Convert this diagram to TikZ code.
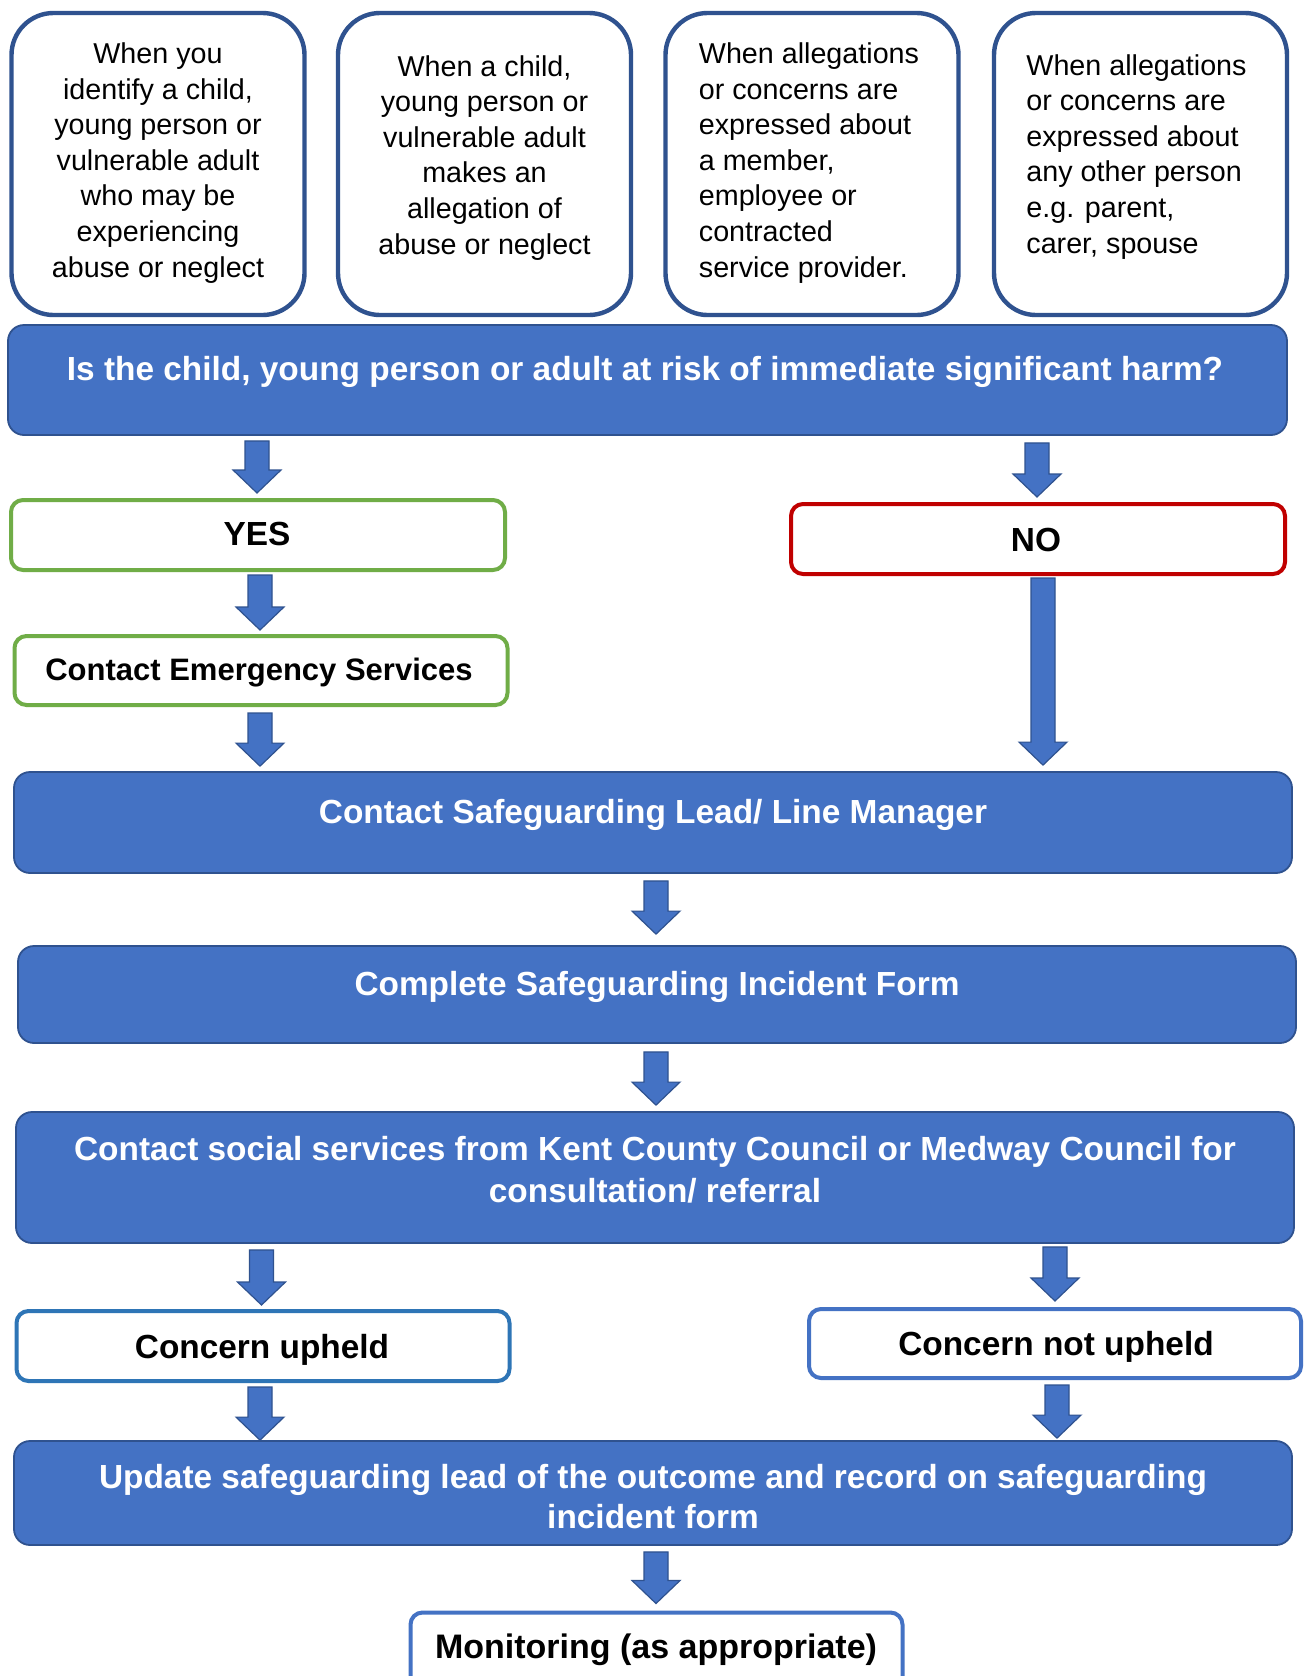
\documentclass[tikz,border=0pt]{standalone}
\usepackage{fontspec}
\setmainfont{Liberation Sans}
\usetikzlibrary{calc}
\definecolor{accblue}{HTML}{4472C4}
\definecolor{darkblue}{HTML}{2F528F}
\definecolor{accgreen}{HTML}{70AD47}
\definecolor{accred}{HTML}{C00000}
\definecolor{midblue}{HTML}{2E75B6}
\tikzset{
 topbox/.style={draw=darkblue, line width=2.2pt, rounded corners=21pt, fill=white, inner sep=0pt},
 bluebox/.style={draw=darkblue, line width=0.9pt, fill=accblue, rounded corners=8pt, inner sep=0pt},
 outbox/.style={line width=2pt, fill=white, rounded corners=6pt, inner sep=0pt},
 toptext/.style={font=\fontsize{14.35}{17.8}\selectfont, inner sep=0pt, anchor=base},
 bluetext/.style={font=\fontsize{16.7}{21}\selectfont\bfseries, text=white, inner sep=0pt, anchor=base, align=center},
 outtext/.style={font=\fontsize{16.7}{21}\selectfont\bfseries, inner sep=0pt, anchor=base},
 arrowbody/.style={fill=accblue, draw=darkblue, line width=0.6pt, line join=miter},
}
\newcommand\flowarrow[2]{%
 \draw[arrowbody] let \p1=#1, \p2=#2 in
 (\x2-6pt,\y1) -- (\x2+6pt,\y1) -- (\x2+6pt,\y2+11.5pt) -- (\x2+12pt,\y2+11.5pt)
 -- (\x2,\y2) -- (\x2-12pt,\y2+11.5pt) -- (\x2-6pt,\y2+11.5pt) -- cycle;}
\begin{document}
\begin{tikzpicture}[x=0.5pt,y=-0.5pt]
\useasboundingbox (0,0) rectangle (1303,1676);
\clip (0,0) rectangle (1303,1676);
\fill[white] (0,0) rectangle (1303,1676);
% top boxes
\node[topbox, minimum width=146.5pt, minimum height=151pt] (b1) at (158,164) {};
\node[topbox, minimum width=146.5pt, minimum height=151pt] (b2) at (484.5,164) {};
\node[topbox, minimum width=146.5pt, minimum height=151pt] (b3) at (812,164) {};
\node[topbox, minimum width=146.5pt, minimum height=151pt] (b4) at (1140.5,164) {};
\node[toptext, align=center] (t1) at (158,277) {When you\\identify a child,\\young person or\\vulnerable adult\\who may be\\experiencing\\abuse or neglect};
\node[toptext, align=center] (t2) at (484.5,254) {When a child,\\young person or\\vulnerable adult\\makes an\\allegation of\\abuse or neglect};
\node[toptext, align=left] (t3) at (809,277) {When allegations\\or concerns are\\expressed about\\a member,\\employee or\\contracted\\service provider.};
\node[toptext, align=left] (t4) at (1136.5,253) {When allegations\\or concerns are\\expressed about\\any other person\\e.g. parent,\\carer, spouse};
% question
\node[bluebox, minimum width=639.5pt, minimum height=55pt] (q) at (647.5,380) {};
\node[bluetext] (qt) at (645,380) {Is the child, young person or adult at risk of immediate significant harm?};
% yes / no
\node[outbox, draw=accgreen, minimum width=247pt, minimum height=35pt] (yes) at (258,535) {};
\node[outtext] (yest) at (257,545) {YES};
\node[outbox, draw=accred, minimum width=247pt, minimum height=35pt] (no) at (1038,539) {};
\node[outtext] (not) at (1036,551) {NO};
\node[outbox, draw=accgreen, minimum width=246.5pt, minimum height=34.5pt] (ces) at (261,670.5) {};
\node[outtext, font=\fontsize{15.5}{19}\selectfont\bfseries] (cest) at (259,680) {Contact Emergency Services};
% main column
\node[bluebox, minimum width=639pt, minimum height=50.5pt] (csl) at (653,822.5) {};
\node[bluetext] (cslt) at (653,823) {Contact Safeguarding Lead/ Line Manager};
\node[bluebox, minimum width=639pt, minimum height=48.5pt] (form) at (657,994.5) {};
\node[bluetext] (formt) at (657,995) {Complete Safeguarding Incident Form};
\node[bluebox, minimum width=639pt, minimum height=65.5pt] (social) at (655,1177.5) {};
\node[bluetext] (socialt) at (655,1202) {Contact social services from Kent County Council or Medway Council for\\consultation/ referral};
% outcomes
\node[outbox, draw=midblue, minimum width=246.5pt, minimum height=35pt] (up) at (263,1346) {};
\node[outtext] (upt) at (262,1358) {Concern upheld};
\node[outbox, draw=accblue, minimum width=246pt, minimum height=34.5pt] (nup) at (1055,1343.5) {};
\node[outtext] (nupt) at (1056,1355) {Concern not upheld};
\node[bluebox, minimum width=639pt, minimum height=52pt] (upd) at (653,1493) {};
\node[bluetext, font=\fontsize{16.7}{20}\selectfont\bfseries] (updt) at (653,1528) {Update safeguarding lead of the outcome and record on safeguarding\\incident form};
\node[outbox, draw=accblue, minimum width=246pt, minimum height=44.5pt] (mon) at (656.5,1657) {};
\node[outtext, font=\fontsize{17}{21}\selectfont\bfseries] (mont) at (656,1658) {Monitoring (as appropriate)};
% arrows
\flowarrow{($(q.south -| yes.north)+(-1,5)$)}{($(yes.north)+(-1,-5)$)}
\flowarrow{($(q.south -| no.north)+(-1,7)$)}{($(no.north)+(-1,-5)$)}
\flowarrow{($(yes.south -| ces.north)+(-1,3)$)}{($(ces.north)+(-1,-4)$)}
\flowarrow{($(ces.south)+(-1,6)$)}{($(csl.north -| ces.south)+(-1,-5)$)}
\flowarrow{($(no.south)+(5,2)$)}{($(csl.north -| no.south)+(5,-6)$)}
\flowarrow{($(csl.south -| form.north)+(-1,7)$)}{($(form.north)+(-1,-11)$)}
\flowarrow{($(form.south -| social.north)+(1,8)$)}{($(social.north)+(1,-6)$)}
\flowarrow{($(social.south -| up.north)+(-1.5,6)$)}{($(up.north)+(-1.5,-4)$)}
\flowarrow{($(social.south -| nup.north)+(0,3)$)}{($(nup.north)+(0,-6)$)}
\flowarrow{($(up.south)+(-3,4)$)}{($(upd.north -| up.south)+(-3,0)$)}
\flowarrow{($(nup.south)+(2,5)$)}{($(upd.north -| nup.south)+(2,-2)$)}
\flowarrow{($(upd.south -| mon.north)+(-0.5,6)$)}{($(mon.north)+(-0.5,-7)$)}
\end{tikzpicture}
\end{document}
